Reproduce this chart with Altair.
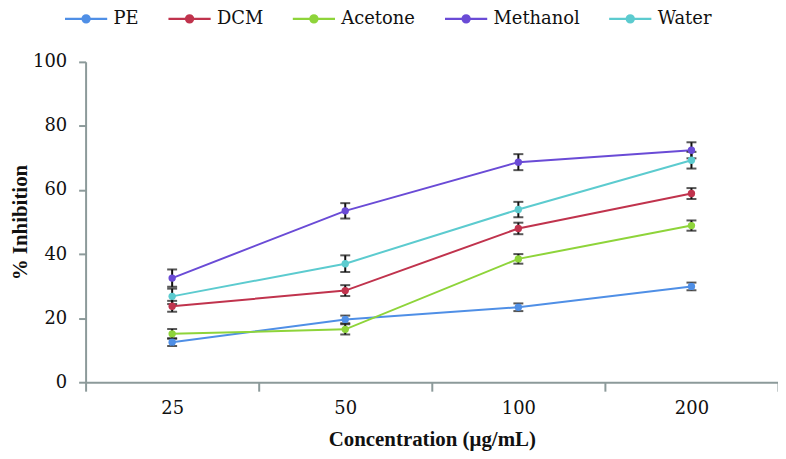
import altair as alt
import pandas as pd

conc = ["25", "50", "100", "200"]
series = ["PE", "DCM", "Acetone", "Methanol", "Water"]
colors = ["#4f8fe6", "#c0334d", "#8ed43a", "#6a4bd6", "#5ccbcf"]

pe = [12.5, 19.6, 23.4, 29.9]
dcm = [23.7, 28.6, 48.0, 58.9]
acetone = [15.1, 16.5, 38.5, 48.9]
methanol = [32.5, 53.5, 68.7, 72.4]
water = [26.8, 37.0, 53.9, 69.3]

pe_err = [1.2, 1.2, 1.2, 1.2]
dcm_err = [1.7, 1.7, 1.8, 1.7]
acetone_err = [1.5, 1.6, 1.5, 1.6]
methanol_err = [2.7, 2.4, 2.5, 2.5]
water_err = [2.4, 2.6, 2.4, 2.6]

vals = [pe, dcm, acetone, methanol, water]
errs = [pe_err, dcm_err, acetone_err, methanol_err, water_err]

rows = []
for s, v, e in zip(series, vals, errs):
    for c, vv, ee in zip(conc, v, e):
        rows.append({"series": s, "conc": c, "value": vv, "lo": vv - ee, "hi": vv + ee})
df = pd.DataFrame(rows)

FONT = "Liberation Serif"
LFONT = "DejaVu Serif"
AX = "#8c9a9a"

x = alt.X(
    "conc:N",
    sort=conc,
    scale=alt.Scale(type="band", paddingInner=0, paddingOuter=0),
    axis=alt.Axis(
        title="Concentration (μg/mL)",
        tickBand="extent",
        labelAngle=0,
        labelPadding=8,
        tickSize=9,
        titlePadding=12,
        grid=False,
    ),
)
y_axis = alt.Axis(
    title="% Inhibition",
    values=[0, 20, 40, 60, 80, 100],
    labelPadding=12,
    tickSize=7,
    titleX=-55,
    titleY=161,
    grid=False,
)
yscale = alt.Scale(domain=[0, 100], nice=False)

color = alt.Color(
    "series:N",
    sort=series,
    scale=alt.Scale(domain=series, range=colors),
    legend=alt.Legend(
        title=None,
        orient="none",
        direction="horizontal",
        legendX=-22,
        legendY=-66,
        symbolType="M-1,0L1,0M-0.17,0A0.17,0.17 0 1,1 0.17,0A0.17,0.17 0 1,1 -0.17,0Z",
        symbolSize=1800,
        symbolStrokeWidth=2.2,
        symbolOpacity=1,
        labelOffset=5,
        columnPadding=24,
    ),
)

base = alt.Chart(df)

lines = base.mark_line(strokeWidth=2).encode(
    x=x, y=alt.Y("value:Q", scale=yscale, axis=y_axis), color=color
)
rules = base.mark_rule(color="#111", strokeWidth=2).encode(
    x=x, y=alt.Y("lo:Q", scale=yscale), y2="hi:Q"
)
tlo = base.mark_tick(orient="horizontal", size=10, thickness=2, color="#111").encode(
    x=x, y=alt.Y("lo:Q", scale=yscale)
)
thi = base.mark_tick(orient="horizontal", size=10, thickness=2, color="#111").encode(
    x=x, y=alt.Y("hi:Q", scale=yscale)
)
points = base.mark_point(filled=True, size=55, opacity=1).encode(
    x=x, y=alt.Y("value:Q", scale=yscale), color=color
)

chart = (
    alt.layer(lines, rules, tlo, thi, points)
    .properties(
        width=696,
        height=322,
        autosize=alt.AutoSizeParams(type="none"),
        padding={"left": 78, "top": 53, "right": 0, "bottom": 70},
        background="white",
    )
    .configure(font=FONT)
    .configure_axis(
        labelFont=LFONT,
        labelFontSize=18,
        labelColor="#111",
        tickColor=AX,
        domainColor=AX,
        domainWidth=2,
        tickWidth=2,
        titleFont=FONT,
        titleFontSize=21,
        titleFontWeight="bold",
        titleColor="#111",
    )
    .configure_legend(labelFont=LFONT, labelFontSize=18, labelColor="#111")
    .configure_view(stroke=None)
)

chart.save("out.html", embed_options={"renderer": "svg", "actions": False})
